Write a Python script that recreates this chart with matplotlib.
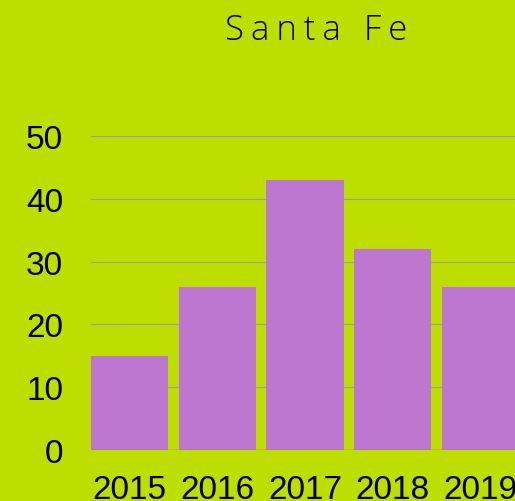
import matplotlib
matplotlib.use("Agg")
import matplotlib.pyplot as plt

years = ["2015", "2016", "2017", "2018", "2019"]
values = [15, 26, 43, 32, 26]
yticks = [0, 10, 20, 30, 40, 50]
title = "Santa Fe"

BG = "#BEDE00"
BAR = "#BE77D0"
GRID = "#9E9E9E"

W, H = 515, 502
fig = plt.figure(figsize=(W / 100, H / 100), dpi=100, facecolor=BG)
# axes in pixel coords: left 91, right 540 (extends beyond figure), bottom 451, top 137
ax = fig.add_axes([91 / W, (H - 451) / H, (540 - 91) / W, (451 - 137) / H])
ax.set_facecolor(BG)

x = list(range(len(years)))
ax.bar(x, values, width=0.88, color=BAR, zorder=2)
ax.set_xlim(-0.44, 4.68)
ax.set_ylim(0, 50)
ax.set_yticks(yticks)
ax.set_yticklabels([str(v) for v in yticks])
ax.set_xticks(x)
ax.set_xticklabels(years)
for s in ax.spines.values():
    s.set_visible(False)
ax.axhline(0, color="#7a7a7a", lw=1.0, zorder=3)
ax.grid(axis="y", color=GRID, lw=0.8, zorder=1)
ax.tick_params(axis="both", length=0, labelsize=24, labelcolor="black")
ax.tick_params(axis="y", pad=20)
ax.tick_params(axis="x", pad=17)
for lbl in ax.get_xticklabels() + ax.get_yticklabels():
    lbl.set_fontfamily("Liberation Sans")

spaced = "\u2009".join(title)
fig.text(316 / W, 1 - 31 / H, spaced, ha="center", va="center", fontsize=25,
         fontfamily=["Open Sans", "DejaVu Sans"], fontweight="light", color="black")

fig.savefig("out.png", dpi=100, facecolor=BG)
